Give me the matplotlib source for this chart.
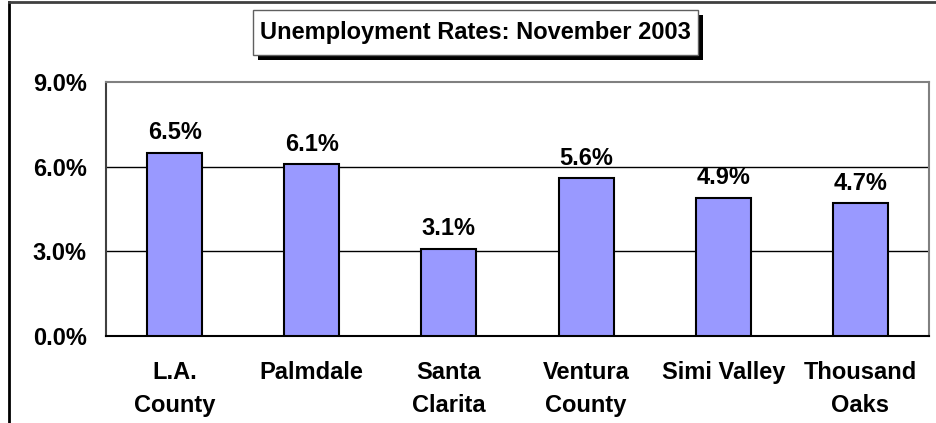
import matplotlib
matplotlib.use("Agg")
import matplotlib.pyplot as plt
from matplotlib.patches import Rectangle
from matplotlib.lines import Line2D
from matplotlib.ticker import FuncFormatter

categories = ["L.A.\nCounty", "Palmdale", "Santa\nClarita", "Ventura\nCounty", "Simi Valley", "Thousand\nOaks"]
rates = [6.5, 6.1, 3.1, 5.6, 4.9, 4.7]
yticks = [0.0, 3.0, 6.0, 9.0]
title = "Unemployment Rates: November 2003"

plt.rcParams['font.family'] = ['Liberation Sans', 'DejaVu Sans']
plt.rcParams['font.weight'] = 'bold'

W, H = 937, 423
fig = plt.figure(figsize=(W / 100, H / 100), dpi=100)

def fx(px):
    return px / W

def fy(py):
    return 1 - py / H

FS = 17
left, right, top, bottom = 106, 929, 82, 336
ax = fig.add_axes([fx(left), fy(bottom), fx(right - left), (bottom - top) / H])

x = list(range(len(categories)))
ax.bar(x, rates, width=0.4, color="#9999FF", edgecolor="black", linewidth=1.5, zorder=3)
for xi, v in zip(x, rates):
    ax.annotate(f"{v:.1f}%", (xi, v), xytext=(0, 6), textcoords="offset points",
                ha="center", va="bottom", fontsize=FS, fontweight="bold")

ax.set_xlim(-0.5, len(categories) - 0.5)
ax.set_ylim(0, 9)
ax.set_yticks(yticks)
ax.yaxis.set_major_formatter(FuncFormatter(lambda v, p: f"{v:.1f}%"))
ax.set_xticks(x)
ax.set_xticklabels(categories, fontsize=FS, fontweight="bold", linespacing=1.55)
ax.tick_params(axis="x", length=0, pad=18)
ax.tick_params(axis="y", length=0, pad=14, labelsize=FS)
for yv in yticks[1:3]:
    ax.axhline(yv, color="black", linewidth=1, zorder=1)
for s in ["top", "right"]:
    ax.spines[s].set_color("#808080")
    ax.spines[s].set_linewidth(1.5)
ax.spines["left"].set_color("#404040")
ax.spines["left"].set_linewidth(1.5)
ax.spines["bottom"].set_color("black")
ax.spines["bottom"].set_linewidth(1.5)

# outer frame (left and top)
fig.add_artist(Line2D([fx(9), fx(9)], [fy(2), 0], color="black", linewidth=2))
fig.add_artist(Line2D([fx(9), 1], [fy(2), fy(2)], color="#404040", linewidth=2))

# title box with shadow
bx0, by0, bx1, by1 = 253, 10, 698, 55
sh = 5
fig.add_artist(Rectangle((fx(bx0 + sh), fy(by1 + sh)), fx(bx1 - bx0), (by1 - by0) / H,
                         facecolor="black", edgecolor="black", linewidth=0))
fig.add_artist(Rectangle((fx(bx0), fy(by1)), fx(bx1 - bx0), (by1 - by0) / H,
                         facecolor="white", edgecolor="#606060", linewidth=1))
fig.text(fx((bx0 + bx1) / 2), fy((by0 + by1) / 2), title, ha="center", va="center",
         fontsize=FS, fontweight="bold")

fig.savefig("out.png", dpi=100)
